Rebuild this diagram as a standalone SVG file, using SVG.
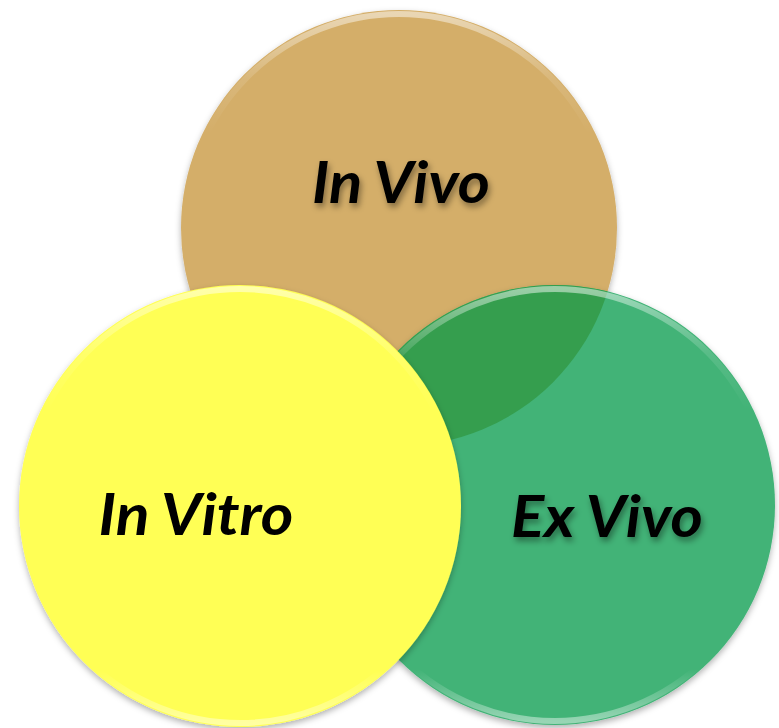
<svg xmlns="http://www.w3.org/2000/svg" width="779" height="728" viewBox="0 0 779 728">
  <defs>
    <filter id="shadow" x="-10%" y="-10%" width="120%" height="125%">
      <feDropShadow dx="0" dy="3" stdDeviation="3" flood-color="#000" flood-opacity="0.3"/>
    </filter>
    <filter id="tshadow" x="-10%" y="-20%" width="120%" height="150%">
      <feDropShadow dx="2" dy="4" stdDeviation="3" flood-color="#000" flood-opacity="0.4"/>
    </filter>
    <linearGradient id="rimTop" x1="0" y1="0" x2="0" y2="1">
      <stop offset="0" stop-color="#fff" stop-opacity="0.5"/>
      <stop offset="0.15" stop-color="#fff" stop-opacity="0.12"/>
      <stop offset="0.28" stop-color="#fff" stop-opacity="0"/>
      <stop offset="0.88" stop-color="#fff" stop-opacity="0"/>
      <stop offset="1" stop-color="#fff" stop-opacity="0.45"/>
    </linearGradient>
    <clipPath id="tanClip">
      <circle cx="399" cy="228" r="218"/>
    </clipPath>
  </defs>
  <style>
    .lbl { font-family: Lato, "Open Sans", "Liberation Sans", sans-serif; font-weight: bold; font-style: italic; font-size: 58px; fill: #000; text-anchor: middle; }
    .rim { fill: none; stroke: url(#rimTop); stroke-width: 6; }
  </style>
  <rect width="779" height="728" fill="#fff"/>
  <g id="in-vivo-circle">
    <circle cx="399" cy="228" r="218" fill="#D4AE69" filter="url(#shadow)"/>
    <circle cx="399" cy="228" r="214" class="rim"/>
  </g>
  <g id="ex-vivo-circle">
    <circle cx="555" cy="505" r="220" fill="#42B377" filter="url(#shadow)"/>
    <circle cx="555" cy="505" r="220" fill="#359E4E" clip-path="url(#tanClip)"/>
    <circle cx="555" cy="505" r="216" class="rim"/>
  </g>
  <g id="in-vitro-circle">
    <circle cx="240" cy="506" r="221" fill="#FFFF55" filter="url(#shadow)"/>
    <circle cx="240" cy="506" r="217" class="rim"/>
  </g>
  <g id="labels">
    <text class="lbl" x="401" y="203" textLength="178" lengthAdjust="spacingAndGlyphs" filter="url(#tshadow)">In Vivo</text>
    <text class="lbl" x="196" y="535" textLength="195" lengthAdjust="spacingAndGlyphs">In Vitro</text>
    <text class="lbl" x="607" y="537" textLength="192" lengthAdjust="spacingAndGlyphs" filter="url(#tshadow)">Ex Vivo</text>
  </g>
</svg>
